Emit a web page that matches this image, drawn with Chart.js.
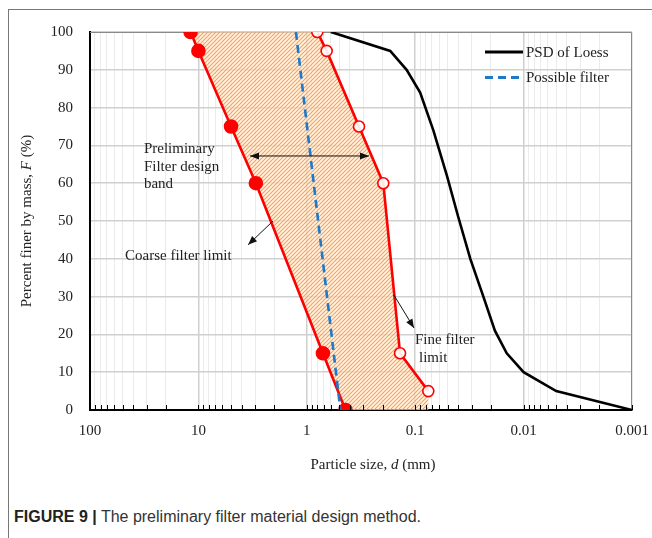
<!DOCTYPE html>
<html>
<head>
<meta charset="utf-8">
<script src="https://cdn.jsdelivr.net/npm/chart.js@4.4.1/dist/chart.umd.min.js"></script>
<style>
body { margin: 0; background: #fff; width: 652px; height: 538px; overflow: hidden; position: relative; }
.frame { position: absolute; left: 8px; top: 9px; width: 700px; height: 600px; border-left: 1px solid #777; border-top: 1px solid #777; }
.chart-box { position: absolute; left: 0; top: 0; width: 652px; height: 490px; }
.caption { position: absolute; left: 14px; top: 508px; font: 16px "Liberation Sans", Arial, sans-serif; color: #333; white-space: nowrap; }
.caption b { color: #222; }
</style>
</head>
<body>
<div class="frame"></div>
<div class="chart-box"><canvas id="chart" width="652" height="490"></canvas></div>
<div class="caption"><b>FIGURE 9 |</b> The preliminary filter material design method.</div>
<script>
// x axis (particle size, mm) - log, reversed
var xDecades = [100, 10, 1, 0.1, 0.01, 0.001];
var xTickLabels = ['100', '10', '1', '0.1', '0.01', '0.001'];

// PSD of Loess
var loessD = [0.6, 0.17, 0.12, 0.09, 0.068, 0.051, 0.04, 0.031, 0.0235, 0.0184, 0.0143, 0.01, 0.005, 0.001];
var loessF = [100, 95, 90, 84, 74, 62, 51, 40, 30, 21, 15, 10, 5, 0];

// Possible filter
var filterD = [1.26, 0.49];
var filterF = [100, 0];

// Coarse filter limit (filled circles)
var coarseD = [11.8, 10, 5, 2.95, 0.71, 0.44];
var coarseF = [100, 95, 75, 60, 15, 0];

// Fine filter limit (open circles)
var fineD = [0.8, 0.656, 0.33, 0.197, 0.138, 0.0757];
var fineF = [100, 95, 75, 60, 15, 5];

var seriesNames = ['PSD of Loess', 'Possible filter'];

var SERIF = '"Liberation Serif", "Times New Roman", serif';
var TXT = '#222';

function toPoints(ds, fs) {
	var pts = [];
	for (var i = 0; i < ds.length; i++) {
		pts.push({x: ds[i], y: fs[i]});
	}
	return pts;
}

// band = coarse limit down, along the bottom, fine limit back up
function bandPoints() {
	var pts = toPoints(coarseD, coarseF);
	pts.push({x: fineD[fineD.length - 1], y: 0});
	for (var i = fineD.length - 1; i >= 0; i--) {
		pts.push({x: fineD[i], y: fineF[i]});
	}
	return pts;
}

function makeHatch() {
	var c = document.createElement('canvas');
	c.width = 4;
	c.height = 4;
	var g = c.getContext('2d');
	g.fillStyle = 'rgba(253,236,218,0.6)';
	g.fillRect(0, 0, 4, 4);
	g.strokeStyle = '#f7a455';
	g.lineWidth = 1.1;
	g.beginPath();
	g.moveTo(0, 4); g.lineTo(4, 0);
	g.moveTo(-1, 1); g.lineTo(1, -1);
	g.moveTo(3, 5); g.lineTo(5, 3);
	g.stroke();
	return g.createPattern(c, 'repeat');
}

function isDecade(v) {
	for (var i = 0; i < xDecades.length; i++) {
		if (Math.abs(v / xDecades[i] - 1) < 1e-6) return i;
	}
	return -1;
}

function logTicks() {
	var t = [];
	for (var e = -3; e <= 1; e++) {
		for (var k = 1; k <= 9; k++) {
			t.push({value: Number((k * Math.pow(10, e)).toPrecision(6))});
		}
	}
	t.push({value: 100});
	return t;
}

// annotations, in data units
var notes = [
	{lines: ['Preliminary', 'Filter design', 'band'], d: 31.8, f: 69},
	{lines: ['Coarse filter limit'], d: 47.5, f: 40.6},
	{lines: ['Fine filter'], d: 0.1005, f: 18.5},
	{lines: ['limit'], d: 0.0923, f: 13.8}
];
var arrows = [
	{from: [3.34, 67.2], to: [0.267, 67.2], both: true},
	{from: [2.05, 50], to: [3.48, 43.7]},
	{from: [0.157, 30.4], to: [0.1026, 21.7]}
];

function arrowHead(ctx, x1, y1, x2, y2) {
	var a = Math.atan2(y2 - y1, x2 - x1);
	var len = 9, w = 3.6;
	ctx.beginPath();
	ctx.moveTo(x2, y2);
	ctx.lineTo(x2 - len * Math.cos(a) + w * Math.sin(a), y2 - len * Math.sin(a) - w * Math.cos(a));
	ctx.lineTo(x2 - len * Math.cos(a) - w * Math.sin(a), y2 - len * Math.sin(a) + w * Math.cos(a));
	ctx.closePath();
	ctx.fill();
}

function drawMixed(ctx, parts, cx, cy) {
	var total = 0;
	parts.forEach(function (p) {
		ctx.font = (p.it ? 'italic ' : '') + '15px ' + SERIF;
		p.w = ctx.measureText(p.t).width;
		total += p.w;
	});
	var x = cx - total / 2;
	ctx.textAlign = 'left';
	ctx.textBaseline = 'middle';
	parts.forEach(function (p) {
		ctx.font = (p.it ? 'italic ' : '') + '15px ' + SERIF;
		ctx.fillText(p.t, x, cy);
		x += p.w;
	});
}

var extras = {
	id: 'extras',
	beforeDatasetsDraw: function (chart) {
		var a = chart.chartArea, ctx = chart.ctx;
		ctx.save();
		ctx.strokeStyle = '#8a8a8a';
		ctx.lineWidth = 1;
		ctx.beginPath();
		ctx.moveTo(a.left, a.top + 0.5);
		ctx.lineTo(a.right - 0.5, a.top + 0.5);
		ctx.lineTo(a.right - 0.5, a.bottom);
		ctx.stroke();
		ctx.restore();
	},
	afterDatasetsDraw: function (chart) {
		var ctx = chart.ctx, xs = chart.scales.x, ys = chart.scales.y, a = chart.chartArea;
		ctx.save();
		// tick marks inside the x axis
		ctx.strokeStyle = '#000';
		ctx.lineWidth = 1;
		xs.ticks.forEach(function (t) {
			var px = Math.round(xs.getPixelForValue(t.value)) + 0.5;
			ctx.beginPath();
			ctx.moveTo(px, a.bottom);
			ctx.lineTo(px, a.bottom - 5);
			ctx.stroke();
		});

		// annotation text
		ctx.fillStyle = TXT;
		ctx.font = '15px ' + SERIF;
		ctx.textAlign = 'left';
		ctx.textBaseline = 'middle';
		notes.forEach(function (n) {
			var px = xs.getPixelForValue(n.d), py = ys.getPixelForValue(n.f);
			n.lines.forEach(function (s, i) {
				ctx.fillText(s, px, py + i * 17.5);
			});
		});

		// arrows
		ctx.strokeStyle = '#111';
		ctx.fillStyle = '#111';
		ctx.lineWidth = 1;
		arrows.forEach(function (r) {
			var x1 = xs.getPixelForValue(r.from[0]), y1 = ys.getPixelForValue(r.from[1]);
			var x2 = xs.getPixelForValue(r.to[0]), y2 = ys.getPixelForValue(r.to[1]);
			ctx.beginPath();
			ctx.moveTo(x1, y1);
			ctx.lineTo(x2, y2);
			ctx.stroke();
			arrowHead(ctx, x1, y1, x2, y2);
			if (r.both) arrowHead(ctx, x2, y2, x1, y1);
		});

		// legend inside the plot
		var lx = a.right - 147, ly = a.top + 20;
		var sets = [chart.data.datasets[0], chart.data.datasets[1]];
		sets.forEach(function (ds, i) {
			var y = ly + i * 25.5;
			ctx.strokeStyle = ds.borderColor;
			ctx.lineWidth = 3;
			ctx.setLineDash(ds.borderDash || []);
			ctx.beginPath();
			ctx.moveTo(lx, y);
			ctx.lineTo(lx + 38, y);
			ctx.stroke();
			ctx.setLineDash([]);
			ctx.fillStyle = TXT;
			ctx.font = '15px ' + SERIF;
			ctx.fillText(seriesNames[i], lx + 41, y + 1);
		});

		// axis titles
		ctx.fillStyle = TXT;
		drawMixed(ctx, [{t: 'Particle size, '}, {t: 'd', it: true}, {t: ' (mm)'}], (a.left + a.right) / 2 + 12, 465);
		ctx.translate(27, (a.top + a.bottom) / 2);
		ctx.rotate(-Math.PI / 2);
		drawMixed(ctx, [{t: 'Percent finer by mass, '}, {t: 'F', it: true}, {t: ' (%)'}], 0, 0);
		ctx.restore();
	}
};

var ctx = document.getElementById('chart').getContext('2d');
var chart = new Chart(ctx, {
	type: 'scatter',
	data: {
		datasets: [{
			label: seriesNames[0],
			data: toPoints(loessD, loessF),
			showLine: true,
			borderColor: '#000',
			borderWidth: 2.6,
			pointRadius: 0,
			fill: false
		}, {
			label: seriesNames[1],
			data: toPoints(filterD, filterF),
			showLine: true,
			borderColor: '#1f78c8',
			borderWidth: 2.6,
			borderDash: [8, 5],
			pointRadius: 0,
			fill: false
		}, {
			label: 'Coarse filter limit',
			data: toPoints(coarseD, coarseF),
			showLine: true,
			borderColor: '#ff0000',
			borderWidth: 2.6,
			pointRadius: 6,
			pointBackgroundColor: '#ff0000',
			pointBorderColor: '#ff0000',
			fill: false
		}, {
			label: 'Fine filter limit',
			data: toPoints(fineD, fineF),
			showLine: true,
			borderColor: '#ff0000',
			borderWidth: 2.6,
			pointRadius: 5.5,
			pointBorderWidth: 1.6,
			pointBackgroundColor: 'rgba(255,255,255,0.9)',
			pointBorderColor: '#ff0000',
			fill: false
		}, {
			label: 'band',
			data: bandPoints(),
			showLine: true,
			borderWidth: 0,
			borderColor: 'rgba(0,0,0,0)',
			pointRadius: 0,
			backgroundColor: makeHatch(),
			fill: 'shape'
		}]
	},
	options: {
		responsive: false,
		animation: false,
		layout: {padding: {left: 30, top: 32, right: 20, bottom: 50}},
		plugins: {
			legend: {display: false},
			tooltip: {enabled: false}
		},
		scales: {
			x: {
				type: 'logarithmic',
				reverse: true,
				min: 0.001,
				max: 100,
				afterBuildTicks: function (scale) {
					scale.ticks = logTicks();
				},
				afterFit: function (scale) {
					scale.height = 30;
				},
				border: {color: '#000', width: 2},
				grid: {
					drawTicks: false,
					color: function (c) {
						return c.tick && isDecade(c.tick.value) >= 0 ? '#cfcfcf' : '#ebebeb';
					},
					lineWidth: function (c) {
						return c.tick && isDecade(c.tick.value) >= 0 ? 1.5 : 1;
					}
				},
				ticks: {
					autoSkip: false,
					maxRotation: 0,
					padding: 12,
					color: TXT,
					font: {family: SERIF, size: 15},
					callback: function (v) {
						var i = isDecade(v);
						return i >= 0 ? xTickLabels[i] : '';
					}
				}
			},
			y: {
				min: 0,
				max: 100,
				afterFit: function (scale) {
					scale.width = 60;
				},
				border: {color: '#000', width: 2},
				grid: {drawTicks: false, color: '#d0d0d0', lineWidth: 1.5},
				ticks: {
					stepSize: 10,
					padding: 17,
					color: TXT,
					font: {family: SERIF, size: 15}
				}
			}
		}
	},
	plugins: [extras]
});
</script>
</body>
</html>
